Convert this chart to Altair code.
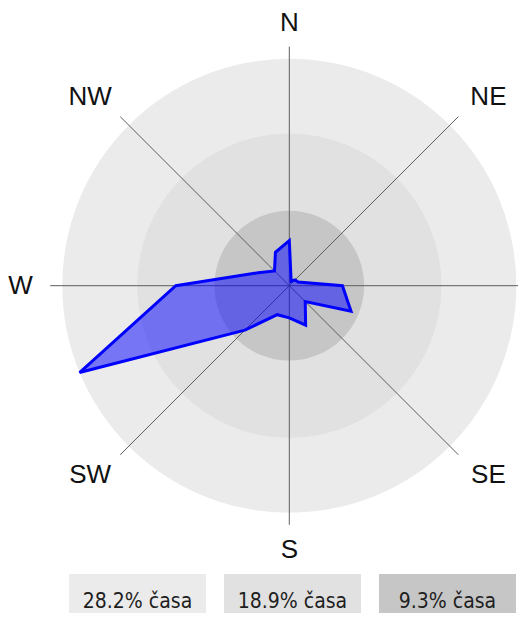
import math
import pandas as pd
import altair as alt

# ---- data ----
directions = ["N", "NNE", "NE", "ENE", "E", "ESE", "SE", "SSE",
              "S", "SSW", "SW", "WSW", "W", "WNW", "NW", "NNW"]
values = [5.6, 0.6, 1.0, 1.2, 6.6, 8.3, 2.8, 5.3,
          4.0, 3.9, 7.8, 28.2, 14.1, 4.2, 2.6, 4.5]
ring_values = [28.2, 18.9, 9.3]
ring_labels = ["28.2% časa", "18.9% časa", "9.3% časa"]
# "E" falls outside the picture in the reference, so it is not shown
compass_labels = ["N", "NE", "SE", "S", "SW", "W", "NW"]
spoke_angles = [0, 45, 90, 135, 180, 225, 270, 315]

# ---- layout / style ----
ring_colors = ["#ebebeb", "#e1e1e1", "#c6c6c6"]
label_angles = [0, 46.5, 133.5, 180, 226.5, 270, 313.5]
label_radii = [32.6, 34.1, 34.1, 32.8, 34.1, 33.4, 34.1]
W, H = 510, 605
PX = 8.05            # pixels per percent
CX, CY = 281.3, 277.7
SPOKE = 29.7

xs = alt.Scale(domain=[-CX / PX, (W - CX) / PX], range=[0, W], nice=False, zero=False)
ys = alt.Scale(domain=[-(H - CY) / PX, CY / PX], range=[H, 0], nice=False, zero=False)


def polar(r, deg):
    a = math.radians(deg)
    return r * math.sin(a), r * math.cos(a)


poly = pd.DataFrame({
    "dir": directions,
    "v": values,
    "i": list(range(len(directions))),
})
poly["x"] = [polar(v, 22.5 * i)[0] for i, v in zip(poly["i"], poly["v"])]
poly["y"] = [polar(v, 22.5 * i)[1] for i, v in zip(poly["i"], poly["v"])]

rings = pd.DataFrame({"r": ring_values, "color": ring_colors, "k": [0, 1, 2]})

spokes = pd.DataFrame({"a": spoke_angles})
spokes["x0"] = 0.0
spokes["y0"] = 0.0
spokes["x1"] = [polar(SPOKE, a)[0] for a in spoke_angles]
spokes["y1"] = [polar(SPOKE, a)[1] for a in spoke_angles]

labs = pd.DataFrame({"t": compass_labels, "a": label_angles, "r": label_radii})
labs["x"] = [polar(r, a)[0] for r, a in zip(labs["r"], labs["a"])]
labs["y"] = [polar(r, a)[1] for r, a in zip(labs["r"], labs["a"])]

legend = pd.DataFrame({"t": ring_labels, "color": ring_colors})

circles = alt.Chart(rings).mark_arc(theta=0, theta2=2 * math.pi, strokeWidth=0).encode(
    x=alt.datum(0, scale=xs, axis=None),
    y=alt.datum(0, scale=ys, axis=None),
    radius=alt.Radius("r:Q", stack=None,
                      scale=alt.Scale(type="linear", domain=[0, ring_values[0]],
                                      range=[0, ring_values[0] * PX], zero=True)),
    color=alt.Color("color:N", scale=None),
    order=alt.Order("k:Q"),
)

spoke_layer = alt.Chart(spokes).mark_rule(color="#5e5e5e", strokeWidth=1).encode(
    x=alt.X("x0:Q", scale=xs, axis=None),
    y=alt.Y("y0:Q", scale=ys, axis=None),
    x2="x1:Q",
    y2="y1:Q",
)

poly_layer = alt.Chart(poly).mark_line(
    interpolate="linear-closed", fill="#0000ff", fillOpacity=0.5,
    stroke="#0000ff", strokeWidth=3, strokeJoin="miter",
).encode(
    x=alt.X("x:Q", scale=xs, axis=None),
    y=alt.Y("y:Q", scale=ys, axis=None),
    order=alt.Order("i:Q"),
)

label_layer = alt.Chart(labs).mark_text(
    font="Liberation Sans", fontSize=26, color="#111111",
    align="center", baseline="middle",
).encode(
    x=alt.X("x:Q", scale=xs, axis=None),
    y=alt.Y("y:Q", scale=ys, axis=None),
    text="t:N",
)

band = alt.Scale(type="band", range=[61, 508], paddingInner=0.116, paddingOuter=0)
legend_boxes = alt.Chart(legend).mark_rect().encode(
    x=alt.X("t:N", scale=band, sort=None, axis=None),
    y=alt.value(566),
    y2=alt.value(H),
    color=alt.Color("color:N", scale=None),
)
legend_text = alt.Chart(legend).mark_text(
    font="DejaVu Sans Condensed", fontSize=21, color="#1e1e1e",
    align="center", baseline="middle",
).encode(
    x=alt.X("t:N", scale=band, sort=None, axis=None, bandPosition=0.5),
    y=alt.value(594),
    text="t:N",
)

chart = alt.layer(
    circles, spoke_layer, poly_layer, label_layer, legend_boxes, legend_text
).resolve_scale(x="independent", y="independent").properties(
    width=W, height=H, padding=0, background="#ffffff",
    autosize=alt.AutoSizeParams(type="none"),
).configure_view(stroke="transparent", strokeWidth=0)

chart.save("out.html", embed_options={"renderer": "svg", "actions": False})
